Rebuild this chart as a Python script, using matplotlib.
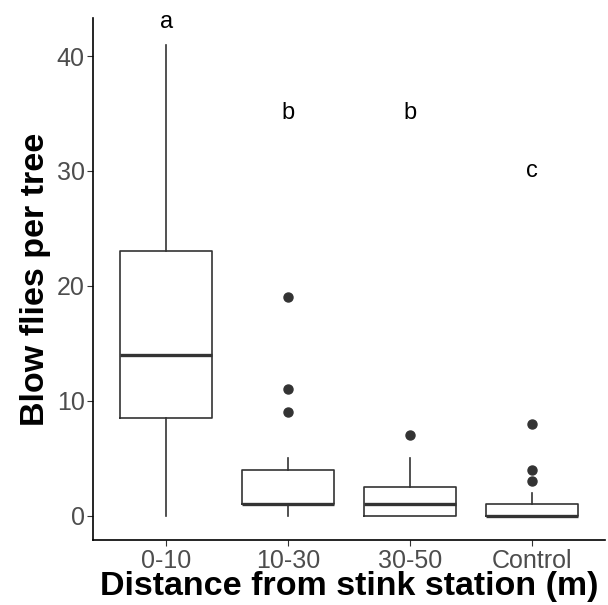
import matplotlib
matplotlib.use("Agg")
import matplotlib.pyplot as plt

plt.rcParams["font.family"] = ["Liberation Sans", "DejaVu Sans"]

# Summary stats per distance group
GROUPS = ["0-10", "10-30", "30-50", "Control"]
Q1 = [8.5, 1, 0, 0]
MED = [14, 1, 1, 0]
Q3 = [23, 4, 2.5, 1]
WHISK_LO = [0, 0, 0, 0]
WHISK_HI = [41, 5, 5, 2]
OUTLIERS = [[], [19, 11, 9], [7], [8, 4, 3]]
LETTERS = ["a", "b", "b", "c"]
LETTER_Y = [43, 35, 35, 30]

stats = []
for i, g in enumerate(GROUPS):
    stats.append(dict(label=g, q1=Q1[i], med=MED[i], q3=Q3[i],
                      whislo=WHISK_LO[i], whishi=WHISK_HI[i], fliers=OUTLIERS[i]))

fig = plt.figure(figsize=(6.08, 6.05), dpi=100)
ax = fig.add_axes([0.153, 0.107, 0.842, 0.863])
pos = list(range(1, len(GROUPS) + 1))
line = dict(color="#333333", linewidth=1.2)
ax.bxp(stats, positions=pos, widths=0.75, showcaps=False,
       boxprops=line, whiskerprops=line,
       medianprops=dict(color="#333333", linewidth=2.4),
       flierprops=dict(marker="o", markerfacecolor="#333333",
                       markeredgecolor="#333333", markersize=6.5))

for p, lab, y in zip(pos, LETTERS, LETTER_Y):
    ax.text(p, y, lab, ha="center", va="center", fontsize=17, clip_on=False)

ax.set_xlim(0.4, 4.6)
ax.set_ylim(-2.15, 43.3)
ax.set_yticks([0, 10, 20, 30, 40])
ax.set_xticks(pos)
ax.set_xticklabels(GROUPS)
ax.tick_params(labelsize=18, labelcolor="#4D4D4D", color="#333333", length=4, pad=2)
for s in ["top", "right"]:
    ax.spines[s].set_visible(False)
for s in ["left", "bottom"]:
    ax.spines[s].set_linewidth(1.2)
ax.set_xlabel("Distance from stink station (m)", fontsize=24.5, fontweight="bold", labelpad=-1)
ax.set_ylabel("Blow flies per tree", fontsize=24.5, fontweight="bold", labelpad=4)

fig.savefig("out.png", dpi=100)
